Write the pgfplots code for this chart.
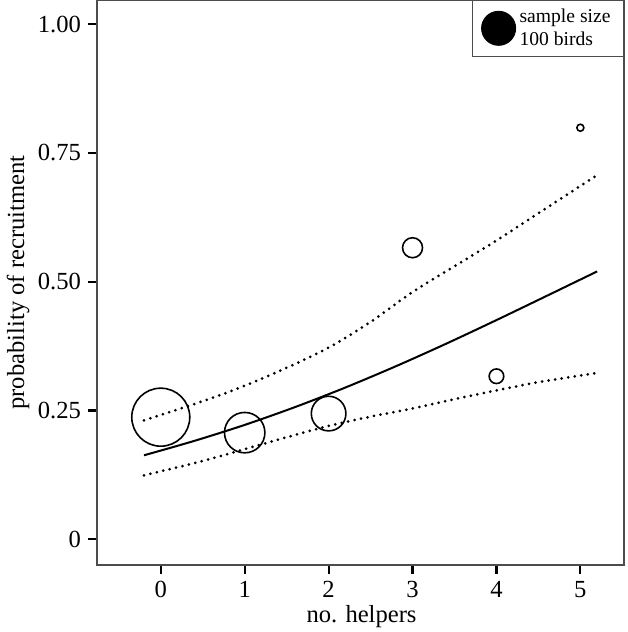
\documentclass[border=0pt]{standalone}
\usepackage{fontspec}
\setmainfont{Liberation Serif}
\usepackage{pgfplots}
\pgfplotsset{compat=1.18}
\begin{document}
\begin{tikzpicture}
\begin{axis}[
  scale only axis,
  width=263.5pt, height=282.5pt,
  xmin=-0.76, xmax=5.52,
  ymin=-0.05, ymax=1.047,
  axis line style={black!70, line width=0.6pt},
  tick align=outside,
  major tick length=4.5pt,
  tick style={black, line width=1.1pt},
  xtick={0,1,2,3,4,5},
  ytick={0,0.25,0.5,0.75,1},
  yticklabels={0,0.25,0.50,0.75,1.00},
  xtick pos=bottom, ytick pos=left,
  /pgf/number format/assume math mode=true,
  tick label style={font=\fontsize{12.3}{14}\selectfont},
  label style={font=\fontsize{12.3}{14}\selectfont},
  xlabel={no. helpers},
  ylabel={probability of recruitment},
  xlabel style={at={(axis description cs:0.502,-0.092)}, anchor=center},
  ylabel style={at={(axis description cs:-0.1496,0.5)}, anchor=center},
  legend style={at={(1,1)}, anchor=north east, draw=black!70, line width=0.5pt,
    font=\fontsize{9.8}{11.5}\selectfont, nodes={align=left},
    inner xsep=4.5pt, inner ysep=2pt},
  legend cell align=left,
]
\addlegendimage{only marks, mark=*, mark size=8.5pt, black}
\addlegendentry{sample size\\100 birds}
% fitted curve
\addplot[black, line width=1pt, smooth] coordinates {
(-0.2,0.163) (0.4,0.191) (1.0,0.222) (1.6,0.2566) (2.2,0.2946) (2.8,0.3358)
(3.4,0.3796) (4.0,0.4255) (4.6,0.4726) (5.2,0.520)};
% upper CI
\addplot[black, line width=1.5pt, line cap=round, dash pattern=on 0pt off 3.3pt, smooth] coordinates {
(-0.2,0.231) (0.5,0.268) (1,0.298) (1.5,0.333) (2,0.372) (2.5,0.422) (3,0.480)
(3.5,0.530) (4,0.580) (4.5,0.633) (5.2,0.707)};
% lower CI
\addplot[black, line width=1.5pt, line cap=round, dash pattern=on 0pt off 3.3pt, smooth] coordinates {
(-0.2,0.124) (0.5,0.152) (1,0.175) (1.5,0.198) (2,0.220) (2.5,0.238) (3,0.254)
(3.5,0.272) (4,0.289) (4.5,0.305) (5.2,0.323)};
% observed proportions (circle size ~ sample size)
\addplot[only marks, mark=o, mark size=14.5pt, mark options={line width=0.8pt}, black] coordinates {(0,0.237)};
\addplot[only marks, mark=o, mark size=10.1pt, mark options={line width=0.8pt}, black] coordinates {(1,0.207)};
\addplot[only marks, mark=o, mark size=8.65pt, mark options={line width=0.8pt}, black] coordinates {(2,0.244)};
\addplot[only marks, mark=o, mark size=5.0pt, mark options={line width=0.8pt}, black] coordinates {(3,0.566)};
\addplot[only marks, mark=o, mark size=3.65pt, mark options={line width=0.8pt}, black] coordinates {(4,0.3165)};
\addplot[only marks, mark=o, mark size=1.75pt, mark options={line width=0.8pt}, black] coordinates {(5,0.799)};
\coordinate (bl) at (rel axis cs:0,0);
\coordinate (tr) at (rel axis cs:1,1);
\end{axis}
\pgfresetboundingbox
\path ([xshift=-48.5pt,yshift=-33.5pt]bl) rectangle ([xshift=1.5pt]tr);
\end{tikzpicture}
\end{document}
